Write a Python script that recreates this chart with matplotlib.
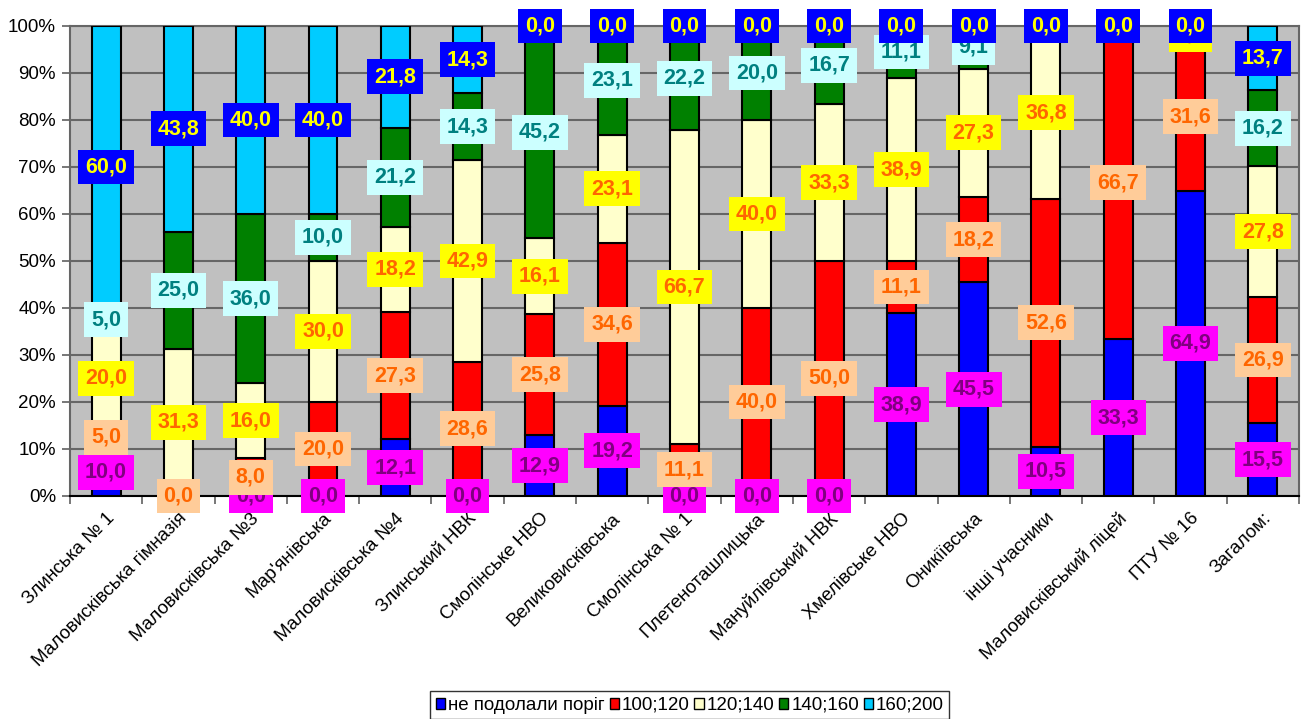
import matplotlib
matplotlib.use("Agg")
import matplotlib.pyplot as plt
import numpy as np
from matplotlib.patches import Patch

plt.rcParams['font.family'] = ['Liberation Sans', 'DejaVu Sans']

categories = ["Злинська № 1", "Маловисківська гімназія", "Маловисківська №3",
              "Мар'янівська", "Маловисківська №4", "Злинський НВК",
              "Смолінське НВО", "Великовисківська", "Смолінська № 1",
              "Плетеноташлицька", "Мануйлівський НВК", "Хмелівське НВО",
              "Оникіївська", "інші учасники", "Маловисківський ліцей",
              "ПТУ № 16", "Загалом:"]

series_names = ["не подолали поріг", "100;120", "120;140", "140;160", "160;200"]

s_fail   = [10.0, 0.0, 0.0, 0.0, 12.1, 0.0, 12.9, 19.2, 0.0, 0.0, 0.0, 38.9, 45.5, 10.5, 33.3, 64.9, 15.5]
s_100    = [5.0, 0.0, 8.0, 20.0, 27.3, 28.6, 25.8, 34.6, 11.1, 40.0, 50.0, 11.1, 18.2, 52.6, 66.7, 31.6, 26.9]
s_120    = [20.0, 31.3, 16.0, 30.0, 18.2, 42.9, 16.1, 23.1, 66.7, 40.0, 33.3, 38.9, 27.3, 36.8, 0.0, 3.5, 27.8]
s_140    = [5.0, 25.0, 36.0, 10.0, 21.2, 14.3, 45.2, 23.1, 22.2, 20.0, 16.7, 11.1, 9.1, 0.0, 0.0, 0.0, 16.2]
s_160    = [60.0, 43.8, 40.0, 40.0, 21.8, 14.3, 0.0, 0.0, 0.0, 0.0, 0.0, 0.0, 0.0, 0.0, 0.0, 0.0, 13.7]

series = [s_fail, s_100, s_120, s_140, s_160]
bar_colors = ["#0000FF", "#FF0000", "#FFFFCC", "#008000", "#00CCFF"]
box_colors = ["#FF00FF", "#FFCC99", "#FFFF00", "#CCFFFF", "#0000FF"]
txt_colors = ["#800080", "#FF6600", "#FF6600", "#008080", "#FFFF00"]

data = np.array(series, dtype=float)
totals = data.sum(axis=0)
pct = data / totals * 100.0

fig = plt.figure(figsize=(13.05, 7.19), dpi=100)
ax = fig.add_axes([0.0536, 0.3102, 0.9418, 0.6537])
ax.set_facecolor("#C0C0C0")

x = np.arange(len(categories))
bottom = np.zeros(len(categories))
for k in range(5):
    ax.bar(x, pct[k], 0.4, bottom=bottom, color=bar_colors[k],
           edgecolor="black", linewidth=1.5, zorder=3)
    bottom += pct[k]

bottom = np.zeros(len(categories))
for k in range(5):
    for i in range(len(categories)):
        yc = bottom[i] + pct[k][i] / 2.0
        ax.text(x[i], yc, f"{series[k][i]:.1f}".replace(".", ","),
                ha="center", va="center", fontsize=15.5, fontweight="bold",
                color=txt_colors[k], zorder=5,
                bbox=dict(boxstyle="square,pad=0.32", facecolor=box_colors[k],
                          edgecolor="none"))
    bottom += pct[k]

ax.set_xlim(-0.5, len(categories) - 0.5)
ax.set_ylim(0, 100)
ax.set_yticks(np.arange(0, 101, 10))
ax.set_yticklabels([f"{v}%" for v in range(0, 101, 10)], fontsize=13.5)
ax.yaxis.grid(True, color="#666666", linewidth=1.5, zorder=0)
ax.set_axisbelow(True)

ax.set_xticks(x)
ax.set_xticklabels(categories, rotation=45, ha="right", rotation_mode="anchor",
                   fontsize=13.5)
ax.tick_params(axis="x", which="major", length=0, pad=10)
ax.set_xticks(np.arange(-0.5, len(categories), 1.0), minor=True)
ax.tick_params(axis="x", which="minor", length=6, width=1.2, color="#606060")
ax.tick_params(axis="y", length=6, width=1.2, color="#606060", pad=4)

for sp in ax.spines.values():
    sp.set_color("#666666")
    sp.set_linewidth(1.5)
ax.spines["bottom"].set_color("black")

handles = [Patch(facecolor=bar_colors[k], edgecolor="black", linewidth=1.0)
           for k in range(5)]
leg = fig.legend(handles, series_names, loc="center", bbox_to_anchor=(0.5287, 0.019),
                 ncol=5, fontsize=13.5, frameon=True, fancybox=False,
                 handlelength=0.5, handleheight=0.5, handletextpad=0.15,
                 columnspacing=0.25, borderpad=0.3, borderaxespad=0)
leg.get_frame().set_edgecolor("black")
leg.get_frame().set_linewidth(1.0)

fig.savefig("out.png", dpi=100)
